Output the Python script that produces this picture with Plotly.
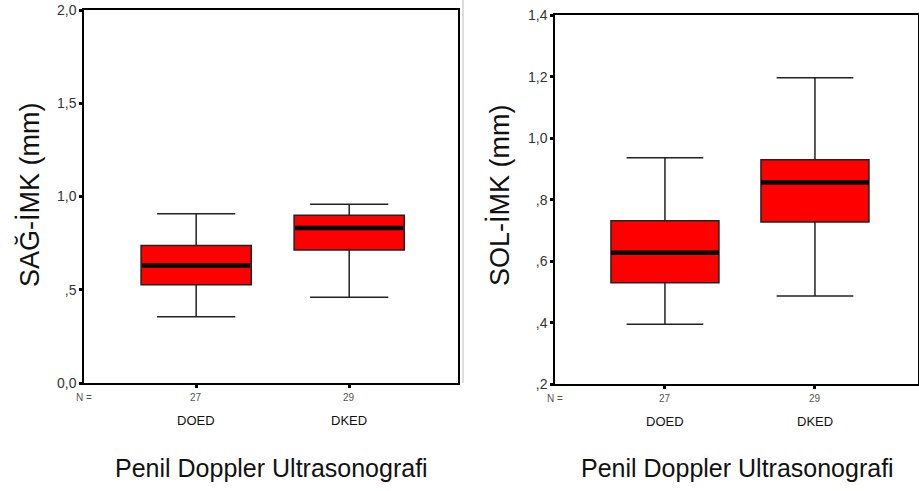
import plotly.graph_objects as go

categories = ["DOED", "DKED"]
n_values = [27, 29]

# Left panel: SAĞ-İMK (mm)
sag_lower = [0.355, 0.460]
sag_q1 = [0.527, 0.713]
sag_median = [0.630, 0.831]
sag_q3 = [0.737, 0.900]
sag_upper = [0.908, 0.958]

# Right panel: SOL-İMK (mm)
sol_lower = [0.395, 0.487]
sol_q1 = [0.530, 0.728]
sol_median = [0.628, 0.856]
sol_q3 = [0.732, 0.930]
sol_upper = [0.937, 1.197]

left_ticks = [0.0, 0.5, 1.0, 1.5, 2.0]
left_ticktext = ["0,0", ",5", "1,0", "1,5", "2,0"]
right_ticks = [0.2, 0.4, 0.6, 0.8, 1.0, 1.2, 1.4]
right_ticktext = [",2", ",4", ",6", ",8", "1,0", "1,2", "1,4"]

FONT = "Liberation Sans, Arial, sans-serif"
W, H, OFF = 919, 491, 0  # body margin removed by post_script below


def px(x):
    return (x - OFF) / W


def py(y):
    return 1 - (y - OFF) / H


fig = go.Figure()


def add_panel(xa, ya, lower, q1, med, q3, upper):
    fig.add_trace(go.Box(
        x=categories, q1=q1, median=med, q3=q3,
        lowerfence=lower, upperfence=upper,
        boxpoints=False, width=0.72, whiskerwidth=0.71,
        fillcolor="#ff0000", line=dict(color="#222222", width=1.5),
        xaxis=xa, yaxis=ya, showlegend=False, hoverinfo="skip"))
    fig.add_trace(go.Scatter(
        x=categories, y=med, mode="markers",
        marker=dict(symbol="line-ew", size=77, color="black",
                    line=dict(color="black", width=4.5)),
        xaxis=xa, yaxis=ya, showlegend=False, hoverinfo="skip"))


add_panel("x", "y", sag_lower, sag_q1, sag_median, sag_q3, sag_upper)
add_panel("x2", "y2", sol_lower, sol_q1, sol_median, sol_q3, sol_upper)

axis_common = dict(showline=True, linecolor="black", linewidth=1.5, mirror=True,
                   showgrid=False, zeroline=False, ticks="outside", ticklen=3,
                   tickwidth=3, tickcolor="black", automargin=False,
                   ticklabeloverflow="allow")

fig.update_layout(
    width=W, height=H, margin=dict(l=0, r=0, t=0, b=0, pad=0, autoexpand=False),
    paper_bgcolor="white", plot_bgcolor="white",
    font=dict(family=FONT, color="#222222"),
    xaxis=dict(domain=[px(84), px(458)], anchor="y", type="category",
               range=[-0.733, 1.711], showticklabels=False, **axis_common),
    yaxis=dict(domain=[py(383), py(10)], anchor="x", range=[0, 2.0],
               tickvals=left_ticks, ticktext=left_ticktext,
               tickfont=dict(size=14, color="#333333"), **axis_common),
    xaxis2=dict(domain=[px(555), px(918)], anchor="y2", type="category",
                range=[-0.733, 1.687], showticklabels=False, **axis_common),
    yaxis2=dict(domain=[py(384.3), py(15.3)], anchor="x2", range=[0.2, 1.4],
                tickvals=right_ticks, ticktext=right_ticktext,
                tickfont=dict(size=14, color="#333333"), **axis_common),
)

annotations = []
for xa, yd, cx in [("x", "y domain", 271), ("x2", "y2 domain", 737)]:
    for cat, n in zip(categories, n_values):
        annotations.append(dict(x=cat, y=0, xref=xa, yref=yd, yshift=-14,
                                xanchor="center", yanchor="middle",
                                text=str(n), showarrow=False,
                                font=dict(size=10, color="#555555", family=FONT)))
        annotations.append(dict(x=cat, y=0, xref=xa, yref=yd, yshift=-37,
                                xanchor="center", yanchor="middle",
                                text=cat, showarrow=False,
                                font=dict(size=13, color="#111111", family=FONT)))
    annotations.append(dict(x=0, y=0, xref=xa + " domain", yref=yd, yshift=-14,
                            xanchor="center", yanchor="middle",
                            text="N =", showarrow=False,
                            font=dict(size=10, color="#555555", family=FONT)))
    annotations.append(dict(x=px(cx), y=py(468), xref="paper", yref="paper",
                            text="Penil Doppler Ultrasonografi",
                            showarrow=False, xanchor="center", yanchor="middle",
                            font=dict(size=25, color="#111111", family=FONT)))

annotations.append(dict(x=px(29), y=py(195), xref="paper", yref="paper",
                        xanchor="center", yanchor="middle",
                        text="SAĞ-İMK (mm)", textangle=-90, showarrow=False,
                        font=dict(size=27, color="#111111", family=FONT)))
annotations.append(dict(x=px(499), y=py(195), xref="paper", yref="paper",
                        xanchor="center", yanchor="middle",
                        text="SOL-İMK (mm)", textangle=-90, showarrow=False,
                        font=dict(size=27, color="#111111", family=FONT)))
fig.update_layout(annotations=annotations)

fig.add_shape(type="line", xref="paper", yref="paper", x0=px(463), x1=px(463),
              y0=py(383), y1=1, line=dict(color="#bbbbbb", width=1))

fig.write_html("out.html", config={"displayModeBar": False},
               post_script="document.body.style.margin='0';document.body.style.overflow='hidden';")
